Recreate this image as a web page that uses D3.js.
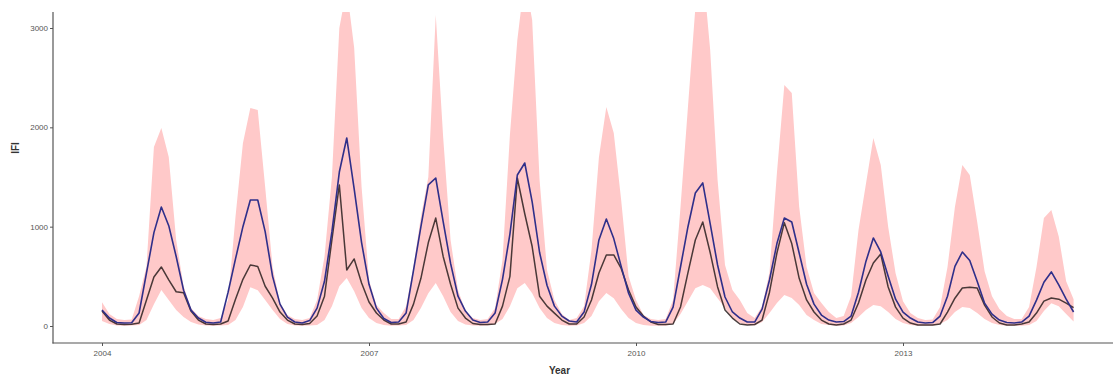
<!DOCTYPE html>
<html>
<head>
<meta charset="utf-8">
<script src="https://cdn.jsdelivr.net/npm/d3@7"></script>
<style>
  html, body { margin: 0; padding: 0; background: #fff; }
  svg { display: block; font-family: "Liberation Sans", Arial, sans-serif; }
</style>
</head>
<body>
<svg id="chart" width="1113" height="377"></svg>
<script>
// Monthly series, January 2004 to December 2014 (one row per year)
const startYear = 2004;

const fitted = [
  161, 80, 35, 30, 32, 131, 534, 940, 1198, 1010, 700, 360,
  160, 80, 38, 30, 40, 340, 675, 1000, 1268, 1268, 950, 500,
  220, 90, 40, 30, 55, 180, 450, 950, 1550, 1893, 1380, 840,
  420, 180, 75, 35, 40, 130, 560, 1000, 1420, 1490, 1050, 630,
  300, 150, 60, 35, 40, 131, 470, 925, 1520, 1641, 1250, 740,
  410, 200, 100, 50, 40, 140, 420, 866, 1077, 880, 600, 330,
  160, 90, 45, 35, 40, 191, 594, 997, 1339, 1440, 1030, 614,
  292, 141, 80, 40, 40, 170, 463, 830, 1087, 1047, 735, 420,
  220, 110, 60, 40, 45, 100, 340, 650, 886, 745, 500, 270,
  140, 80, 40, 30, 35, 100, 300, 600, 745, 660, 450, 230,
  120, 60, 35, 30, 40, 100, 260, 440, 544, 413, 270, 141
];

const observed = [
  150, 60, 20, 15, 18, 30, 262, 493, 594, 465, 345, 335,
  150, 60, 20, 15, 20, 50, 270, 470, 614, 600, 400, 280,
  140, 60, 20, 15, 25, 100, 300, 870, 1420, 564, 675, 433,
  242, 131, 60, 20, 20, 40, 220, 480, 840, 1087, 700, 420,
  180, 80, 25, 15, 15, 20, 200, 500, 1490, 1130, 800, 300,
  200, 130, 60, 20, 20, 90, 262, 534, 715, 715, 580, 362,
  191, 100, 40, 15, 15, 20, 191, 534, 866, 1047, 740, 393,
  161, 80, 20, 10, 15, 60, 340, 735, 1040, 830, 480, 262,
  141, 60, 20, 10, 20, 60, 231, 463, 634, 725, 393, 190,
  80, 30, 10, 10, 10, 20, 140, 280, 383, 390, 383, 210,
  91, 30, 10, 10, 20, 40, 130, 250, 282, 270, 230, 185
];

const upper = [
  240, 120, 70, 60, 65, 300, 600, 1802, 1993, 1701, 866, 400,
  180, 100, 70, 60, 80, 262, 1100, 1840, 2195, 2175, 1400, 594,
  231, 110, 70, 60, 80, 262, 700, 1500, 3000, 3400, 2800, 1400,
  463, 211, 131, 70, 70, 200, 600, 1100, 1500, 3131, 1900, 866,
  362, 150, 80, 60, 70, 180, 664, 1923, 2880, 3500, 3080, 1470,
  564, 262, 121, 60, 80, 200, 765, 1700, 2205, 1943, 1268, 500,
  262, 110, 70, 60, 70, 262, 1198, 2200, 3200, 3600, 2780, 1470,
  614, 362, 262, 131, 80, 200, 540, 1540, 2426, 2345, 1200, 594,
  332, 231, 141, 80, 100, 300, 966, 1430, 1893, 1620, 1000, 530,
  250, 130, 80, 60, 65, 191, 594, 1198, 1621, 1520, 1050, 550,
  300, 170, 100, 70, 70, 191, 594, 1087, 1168, 900, 450, 270
];

const lower = [
  50, 20, 5, 3, 5, 10, 60, 220, 362, 262, 161, 91,
  40, 15, 5, 3, 5, 10, 60, 191, 390, 360, 262, 161,
  70, 20, 5, 3, 5, 10, 60, 200, 400, 483, 350, 180,
  80, 30, 10, 3, 5, 10, 60, 180, 330, 433, 300, 140,
  50, 15, 5, 3, 5, 20, 70, 200, 380, 433, 330, 180,
  80, 30, 10, 3, 5, 30, 100, 250, 332, 280, 170, 80,
  30, 10, 3, 2, 3, 20, 120, 250, 380, 413, 380, 280,
  180, 80, 30, 10, 5, 40, 131, 231, 312, 282, 211, 110,
  60, 20, 10, 3, 5, 30, 90, 160, 211, 200, 140, 70,
  30, 10, 3, 2, 3, 20, 60, 140, 191, 180, 130, 70,
  30, 10, 3, 2, 3, 10, 50, 150, 230, 200, 120, 45
];

const xTickYears = [2004, 2007, 2010, 2013];
const yTickValues = [0, 1000, 2000, 3000];
const xTitle = "Year";
const yTitle = "IFI";

// Assemble rows with a decimal-year position for each month
const rows = fitted.map((v, i) => ({
  t: startYear + i / 12,
  fit: v,
  obs: observed[i],
  hi: upper[i],
  lo: lower[i]
}));

const svg = d3.select("#chart");

const panel = { left: 53, right: 1113, top: 12, bottom: 343 };

const x = d3.scaleLinear().domain([2004, 2015]).range([102, 1081]);
const y = d3.scaleLinear().domain([0, 3000]).range([326, 28]);

svg.append("defs").append("clipPath").attr("id", "panel-clip")
  .append("rect")
  .attr("x", panel.left)
  .attr("y", panel.top)
  .attr("width", panel.right - panel.left)
  .attr("height", panel.bottom - panel.top);

const plot = svg.append("g").attr("clip-path", "url(#panel-clip)");

// Interval ribbon
plot.append("path")
  .datum(rows)
  .attr("fill", "#ffc9c9")
  .attr("d", d3.area()
    .x(d => x(d.t))
    .y0(d => y(d.lo))
    .y1(d => y(d.hi)));

// Observed counts
plot.append("path")
  .datum(rows)
  .attr("fill", "none")
  .attr("stroke", "#2a1e1e")
  .attr("stroke-opacity", 0.85)
  .attr("stroke-width", 1.5)
  .attr("stroke-linejoin", "round")
  .attr("d", d3.line().x(d => x(d.t)).y(d => y(d.obs)));

// Fitted values
plot.append("path")
  .datum(rows)
  .attr("fill", "none")
  .attr("stroke", "#2f2f8a")
  .attr("stroke-width", 1.6)
  .attr("stroke-linejoin", "round")
  .attr("d", d3.line().x(d => x(d.t)).y(d => y(d.fit)));

// Axes
const axisColor = "#555";
const tickTextColor = "#555";

const yAxis = svg.append("g")
  .attr("transform", `translate(${panel.left},0)`)
  .call(d3.axisLeft(y).tickValues(yTickValues).tickSize(3).tickPadding(2).tickFormat(d3.format("d")));
yAxis.select(".domain").remove();

const xAxis = svg.append("g")
  .attr("transform", `translate(0,${panel.bottom})`)
  .call(d3.axisBottom(x).tickValues(xTickYears).tickSize(3).tickPadding(4).tickFormat(d3.format("d")));
xAxis.select(".domain").remove();

[yAxis, xAxis].forEach(g => {
  g.selectAll(".tick line").attr("stroke", axisColor).attr("stroke-width", 1);
  g.selectAll(".tick text")
    .attr("fill", tickTextColor)
    .style("font-size", "8px")
    .style("font-family", "'Liberation Sans', Arial, sans-serif");
});

svg.append("line")
  .attr("x1", panel.left).attr("x2", panel.left)
  .attr("y1", panel.top).attr("y2", panel.bottom + 0.5)
  .attr("stroke", axisColor).attr("stroke-width", 1.2);

svg.append("line")
  .attr("x1", panel.left - 0.5).attr("x2", panel.right)
  .attr("y1", panel.bottom).attr("y2", panel.bottom)
  .attr("stroke", axisColor).attr("stroke-width", 1.2);

// Axis titles
svg.append("text")
  .attr("x", (panel.left + 1066) / 2)
  .attr("y", 374)
  .attr("text-anchor", "middle")
  .attr("fill", "#333")
  .style("font-size", "10px")
  .style("font-weight", "bold")
  .text(xTitle);

svg.append("text")
  .attr("transform", "translate(19,148) rotate(-90)")
  .attr("text-anchor", "middle")
  .attr("fill", "#333")
  .style("font-size", "10px")
  .style("font-weight", "bold")
  .text(yTitle);
</script>
</body>
</html>
